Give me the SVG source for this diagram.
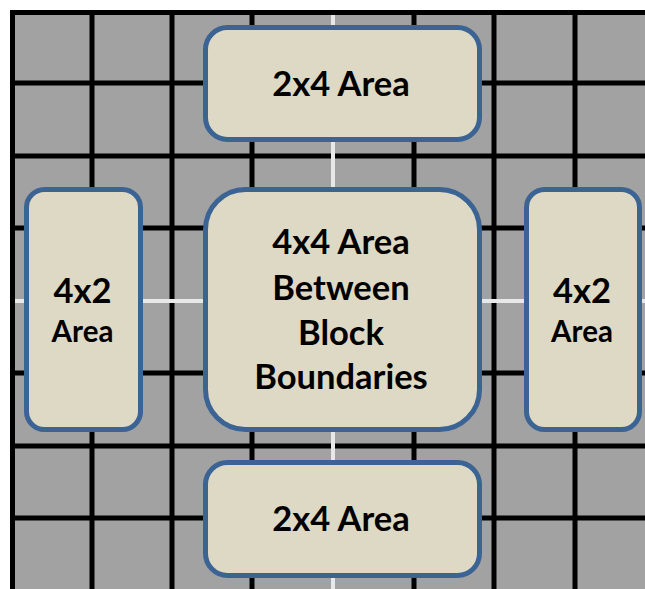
<svg xmlns="http://www.w3.org/2000/svg" width="645" height="589" viewBox="0 0 645 589">
  <style>
    .grid line { stroke: #000000; stroke-width: 5; }
    .grid line.w { stroke: #e8e8e8; stroke-width: 4; }
    .node rect { fill: #ddd9c4; stroke: #3b6394; stroke-width: 5; }
    .node text { font-family: Lato, "Open Sans", "Liberation Sans", sans-serif; font-weight: bold; fill: #000000; text-anchor: middle; }
    .big { font-size: 34.5px; }
    .small { font-size: 29.5px; }
  </style>
  <rect x="0" y="0" width="645" height="589" fill="#ffffff"/>
  <g id="grid" class="grid">
    <rect x="10" y="10" width="635" height="579" fill="#a2a2a2"/>
    <line x1="92" y1="10" x2="92" y2="589"/>
    <line x1="172" y1="10" x2="172" y2="589"/>
    <line x1="252" y1="10" x2="252" y2="589"/>
    <line x1="414" y1="10" x2="414" y2="589"/>
    <line x1="494" y1="10" x2="494" y2="589"/>
    <line x1="575" y1="10" x2="575" y2="589"/>
    <line x1="10" y1="83" x2="645" y2="83"/>
    <line x1="10" y1="156" x2="645" y2="156"/>
    <line x1="10" y1="228" x2="645" y2="228"/>
    <line x1="10" y1="373" x2="645" y2="373"/>
    <line x1="10" y1="446" x2="645" y2="446"/>
    <line x1="10" y1="518" x2="645" y2="518"/>
    <line class="w" x1="333" y1="15" x2="333" y2="589"/>
    <line class="w" x1="15" y1="301" x2="645" y2="301"/>
    <line x1="12.5" y1="10" x2="12.5" y2="589"/>
    <line x1="10" y1="12.5" x2="645" y2="12.5"/>
  </g>
  <g id="connectors"></g>
  <g id="top-2x4" class="node">
    <rect x="205.5" y="27.5" width="274" height="112" rx="22"/>
    <text class="big" x="341" y="96">2x4 Area</text>
  </g>
  <g id="center-4x4" class="node">
    <rect x="205.5" y="189.5" width="274" height="240" rx="40"/>
    <text class="big" x="341" y="254">4x4 Area</text>
    <text class="big" x="341" y="300">Between</text>
    <text class="big" x="341" y="345">Block</text>
    <text class="big" x="341" y="389">Boundaries</text>
  </g>
  <g id="left-4x2" class="node">
    <rect x="26.5" y="189.5" width="114" height="240" rx="18"/>
    <text class="big" x="82.5" y="303">4x2</text>
    <text class="small" x="82.5" y="342">Area</text>
  </g>
  <g id="right-4x2" class="node">
    <rect x="526.5" y="189.5" width="113" height="240" rx="18"/>
    <text class="big" x="582" y="303">4x2</text>
    <text class="small" x="582" y="342">Area</text>
  </g>
  <g id="bottom-2x4" class="node">
    <rect x="205.5" y="462.5" width="274" height="113" rx="22"/>
    <text class="big" x="341" y="531">2x4 Area</text>
  </g>
</svg>
